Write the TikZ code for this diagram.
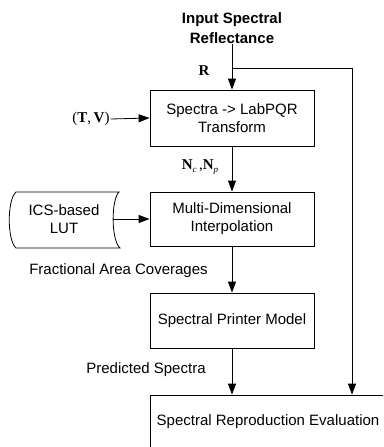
\documentclass[tikz,border=0pt]{standalone}
\usepackage{fontspec}
\setmainfont{Liberation Sans}
\newfontfamily\tnr{Liberation Serif}
\usetikzlibrary{arrows.meta}
\begin{document}
\begin{tikzpicture}[x=1pt,y=-1pt, font=\fontsize{15}{18}\selectfont,
  box/.style={draw, line width=0.8pt, minimum width=164pt, align=center, inner sep=0pt},
  arr/.style={-{Triangle[length=11pt,width=8pt]}, line width=0.8pt},
  lbl/.style={inner sep=0pt, align=center},
  mlbl/.style={inner sep=1pt, font=\tnr\fontsize{15}{18}\selectfont}]
\clip (0,0) rectangle (383,447);
\node[lbl, font=\fontsize{15}{20}\selectfont\bfseries] (in) at (232,28) {Input Spectral\\Reflectance};
\node[box, minimum height=56pt] (tr) at (232,118) {Spectra -> LabPQR\\Transform};
\node[box, minimum height=54pt] (mdi) at (232,219) {Multi-Dimensional\\Interpolation};
\node[box, minimum height=55pt] (spm) at (232,320.5) {Spectral Printer Model};
\node[box, minimum width=236pt, minimum height=54pt] (ev) at (268,422) {Spectral Reproduction Evaluation};
% stored data shape
\draw[line width=0.8pt] (16,192) -- (119,192) .. controls (111,200) and (111,240) .. (120,248)
  -- (16,248) .. controls (7,240) and (7,200) .. (16,192) -- cycle;
\node[lbl] (lut) at (64,219) {ICS-based\\LUT};
\coordinate (lutR) at (113,219);
\node[mlbl] (tv) at (91,119) {(\textbf{T},\,\textbf{V})};
\node[mlbl] (r) at (204,71) {\textbf{R}};
\node[mlbl] (n) at (200,167) {\textbf{N}\raisebox{-3pt}{\fontsize{9}{9}\selectfont\itshape c}\,,\textbf{N}\raisebox{-3pt}{\fontsize{9}{9}\selectfont\itshape p}};
\node[lbl] (frac) at (118.5,271) {Fractional Area Coverages};
\node[lbl] (pred) at (146,370) {Predicted Spectra};
% connectors
\draw[arr] (in.south) -- (tr.north);
\coordinate (br) at (232,68);
\coordinate (rtop) at (352,68);
\draw[arr] (br) -- (rtop) -- (rtop |- ev.north);
\draw[arr] (tv.east) -- (tr.west);
\draw[arr] (tr.south) -- (mdi.north);
\draw[arr] (lutR) -- (mdi.west);
\draw[arr] (mdi.south) -- (spm.north);
\draw[arr] (spm.south) -- (spm.south |- ev.north);
\end{tikzpicture}
\end{document}
